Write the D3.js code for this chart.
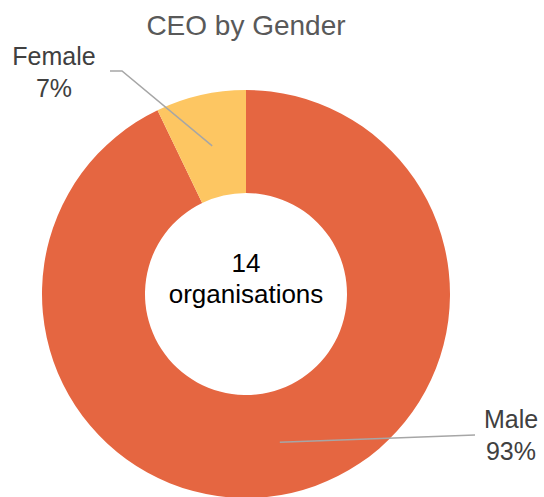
<!DOCTYPE html>
<html>
<head>
<meta charset="utf-8">
<script src="https://cdn.jsdelivr.net/npm/d3@7"></script>
<style>
  html, body { margin: 0; padding: 0; background: #fff; }
  svg { display: block; }
</style>
</head>
<body>
<svg id="chart" width="544" height="497"></svg>
<script>
const categories = ["Male", "Female"];
const values = [13, 1];
const percentLabels = ["93%", "7%"];
const colors = ["#E56641", "#FDC662"];
const title = "CEO by Gender";
const centerLines = ["14", "organisations"];

const svg = d3.select("#chart");
const W = 544, H = 497;
const cx = 246, cy = 294;
const outerR = 204, innerR = 101;
const font = "Liberation Sans, Arial, sans-serif";

svg.append("text")
  .attr("x", 246).attr("y", 35)
  .attr("text-anchor", "middle")
  .attr("font-family", font).attr("font-size", 28)
  .attr("fill", "#595959")
  .text(title);

const data = categories.map((c, i) => ({ cat: c, value: values[i], label: percentLabels[i], color: colors[i] }));

const pie = d3.pie().value(d => d.value).sort(null);
const arcs = pie(data);
const arc = d3.arc().innerRadius(innerR).outerRadius(outerR);
const mid = d3.arc().innerRadius(152).outerRadius(152);

const g = svg.append("g").attr("transform", `translate(${cx},${cy})`);
g.selectAll("path").data(arcs).enter().append("path")
  .attr("d", arc)
  .attr("fill", d => d.data.color);

// center text
svg.append("text")
  .attr("x", 246).attr("y", 272)
  .attr("text-anchor", "middle")
  .attr("font-family", font).attr("font-size", 26)
  .attr("fill", "#000")
  .selectAll("tspan").data(centerLines).enter().append("tspan")
  .attr("x", 246).attr("dy", (d, i) => i === 0 ? 0 : 31)
  .text(d => d);

// labels
const labelPos = {
  Male: { x: 511, y: 428, line: [[475, 435]] },
  Female: { x: 54, y: 65, line: [[110, 71], [122, 71]] }
};

arcs.forEach(a => {
  const p = labelPos[a.data.cat];
  const c = mid.centroid(a);
  const end = [cx + c[0], cy + c[1]];
  const pts = p.line.concat([end]);
  svg.append("path")
    .attr("d", d3.line()(pts))
    .attr("fill", "none")
    .attr("stroke", "#A6A6A6")
    .attr("stroke-width", 1.5);
  const t = svg.append("text")
    .attr("text-anchor", "middle")
    .attr("font-family", font).attr("font-size", 25)
    .attr("fill", "#404040");
  t.append("tspan").attr("x", p.x).attr("y", p.y).text(a.data.cat);
  t.append("tspan").attr("x", p.x).attr("y", p.y + 32).text(a.data.label);
});
</script>
</body>
</html>
